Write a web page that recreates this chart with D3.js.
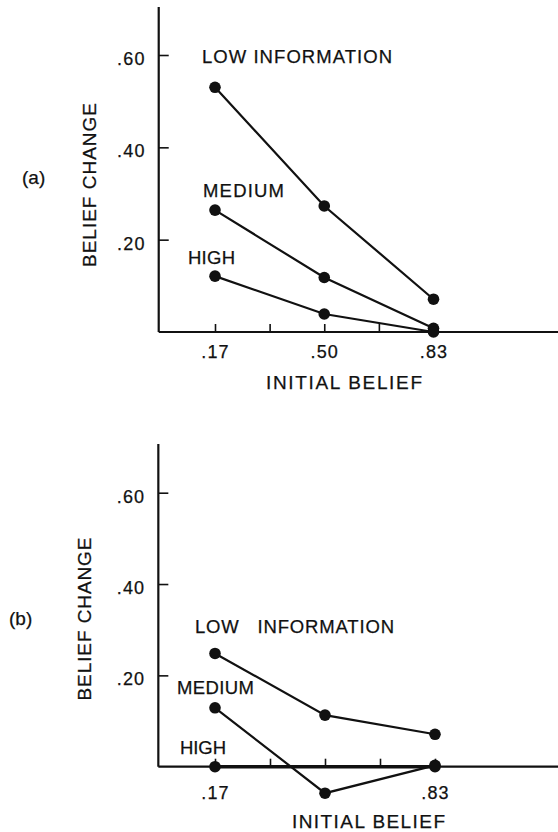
<!DOCTYPE html>
<html>
<head>
<meta charset="utf-8">
<script src="https://cdn.jsdelivr.net/npm/d3@7"></script>
<style>
  html, body { margin: 0; padding: 0; background: #fff; }
  svg { display: block; }
  text { font-family: "Liberation Sans", Arial, sans-serif; fill: #111; stroke: #111; stroke-width: 0.25px; }
</style>
</head>
<body>
<svg id="chart" width="558" height="832"></svg>
<script>
// ---------- data ----------
const initialBelief = [0.17, 0.50, 0.83];
const minorTicks = [0.17, 0.335, 0.50, 0.665, 0.83];
const yTickValues = [0.20, 0.40, 0.60];
const yTickLabels = [".20", ".40", ".60"];
const xTickLabelsA = [".17", ".50", ".83"];
const xTickLabelsB = [".17", "", ".83"];
const seriesNames = ["LOW INFORMATION", "MEDIUM", "HIGH"];

// panel (a)
const lowA    = [0.530, 0.273, 0.071];
const mediumA = [0.264, 0.118, 0.008];
const highA   = [0.121, 0.039, 0.000];
// panel (b)
const lowB    = [0.248, 0.113, 0.071];
const mediumB = [0.129, -0.058, 0.003];
const highB   = [0.000, 0.000, 0.000];
// which points carry a dot (the original omits the HIGH dot at .50 in panel b)
const dotsA = [[true, true, true], [true, true, true], [true, true, true]];
const dotsB = [[true, true, true], [true, true, true], [true, false, true]];

const svg = d3.select("#chart");
const FONT = '"Liberation Sans", Arial, sans-serif';

function panel(cfg) {
  const x = d3.scaleLinear().domain([0.17, 0.83]).range(cfg.xRange);
  const y = d3.scaleLinear().domain([0, 0.60]).range(cfg.yRange);
  const g = svg.append("g");
  const x0 = x(0);

  // y axis
  const yAxis = d3.axisLeft(y)
    .tickValues(yTickValues)
    .tickFormat((d, i) => yTickLabels[i])
    .tickSize(-10)
    .tickSizeOuter(0)
    .tickPadding(13);
  const ya = g.append("g").attr("transform", `translate(${x0},0)`).call(yAxis);
  ya.select(".domain").remove();
  ya.selectAll(".tick line").attr("stroke", "#111").attr("stroke-width", 1.6);
  ya.selectAll(".tick text")
    .attr("font-size", 18).attr("letter-spacing", 1.2)
    .attr("dy", "0.52em").style("font-family", FONT).attr("fill", "#111");
  g.append("line")
    .attr("x1", x0).attr("x2", x0)
    .attr("y1", y(0)).attr("y2", cfg.yTop)
    .attr("stroke", "#111").attr("stroke-width", 2.2);

  // x axis
  const xAxis = d3.axisBottom(x)
    .tickValues(minorTicks)
    .tickFormat(d => {
      const i = initialBelief.indexOf(d);
      return i >= 0 ? cfg.xLabels[i] : "";
    })
    .tickSize(-8)
    .tickSizeOuter(0)
    .tickPadding(cfg.xPad);
  const xa = g.append("g").attr("transform", `translate(0,${y(0)})`).call(xAxis);
  xa.select(".domain").remove();
  xa.selectAll(".tick line").attr("stroke", "#111").attr("stroke-width", 1.6);
  xa.selectAll(".tick text")
    .attr("font-size", 18).attr("letter-spacing", 1.2)
    .style("font-family", FONT).attr("fill", "#111");
  g.append("line")
    .attr("x1", x0).attr("x2", 558)
    .attr("y1", y(0)).attr("y2", y(0))
    .attr("stroke", "#111").attr("stroke-width", 2.2);

  // series
  const line = d3.line().x((d, i) => x(initialBelief[i])).y(d => y(d));
  cfg.series.forEach((s, k) => {
    g.append("path")
      .attr("d", line(s))
      .attr("fill", "none")
      .attr("stroke", "#111")
      .attr("stroke-width", k === 2 && cfg.thickHigh ? 3.4 : 2.2);
    const pts = s.map((v, i) => ({ v, i })).filter(p => cfg.dots[k][p.i]);
    g.selectAll(null).data(pts).enter().append("circle")
      .attr("cx", p => x(initialBelief[p.i]))
      .attr("cy", p => y(p.v))
      .attr("r", 5.8)
      .attr("fill", "#111");
  });

  // series labels
  cfg.labels.forEach((l, k) => {
    g.append("text")
      .attr("x", l[0]).attr("y", l[1])
      .attr("font-size", 18.5)
      .attr("textLength", l[2]).attr("lengthAdjust", "spacing")
      .style("white-space", "pre")
      .text(k === 0 ? cfg.lowText : seriesNames[k]);
  });

  // axis titles
  g.append("text")
    .attr("transform", `translate(${cfg.yTitle[0]},${cfg.yTitle[1]}) rotate(-90)`)
    .attr("text-anchor", "middle")
    .attr("dominant-baseline", "central")
    .attr("font-size", 19)
    .attr("textLength", cfg.yTitle[2]).attr("lengthAdjust", "spacing")
    .text("BELIEF CHANGE");
  g.append("text")
    .attr("x", cfg.xTitle[0]).attr("y", cfg.xTitle[1])
    .attr("font-size", 19)
    .attr("textLength", cfg.xTitle[2]).attr("lengthAdjust", "spacing")
    .text("INITIAL BELIEF");
  g.append("text")
    .attr("x", cfg.tag[0]).attr("y", cfg.tag[1])
    .attr("font-size", 19)
    .text(cfg.tagText);
}

panel({
  xRange: [215, 433.5], yRange: [332, 55], yTop: 7,
  xLabels: xTickLabelsA, xPad: 13,
  series: [lowA, mediumA, highA], dots: dotsA,
  thickHigh: false,
  lowText: "LOW INFORMATION",
  labels: [[202, 62.5, 190], [203, 196.5, 81], [188, 263.5, 47]],
  yTitle: [89, 185, 164],
  xTitle: [266, 389, 156],
  tag: [22, 184], tagText: "(a)"
});

panel({
  xRange: [215, 435], yRange: [766.7, 492.7], yTop: 444,
  xLabels: xTickLabelsB, xPad: 20,
  series: [lowB, mediumB, highB], dots: dotsB,
  thickHigh: true,
  lowText: "LOW   INFORMATION",
  labels: [[195, 632.7, 199], [177, 693.5, 77], [180, 753.7, 46]],
  yTitle: [84.7, 619, 163],
  xTitle: [292, 828, 153],
  tag: [9, 625], tagText: "(b)"
});
</script>
</body>
</html>
